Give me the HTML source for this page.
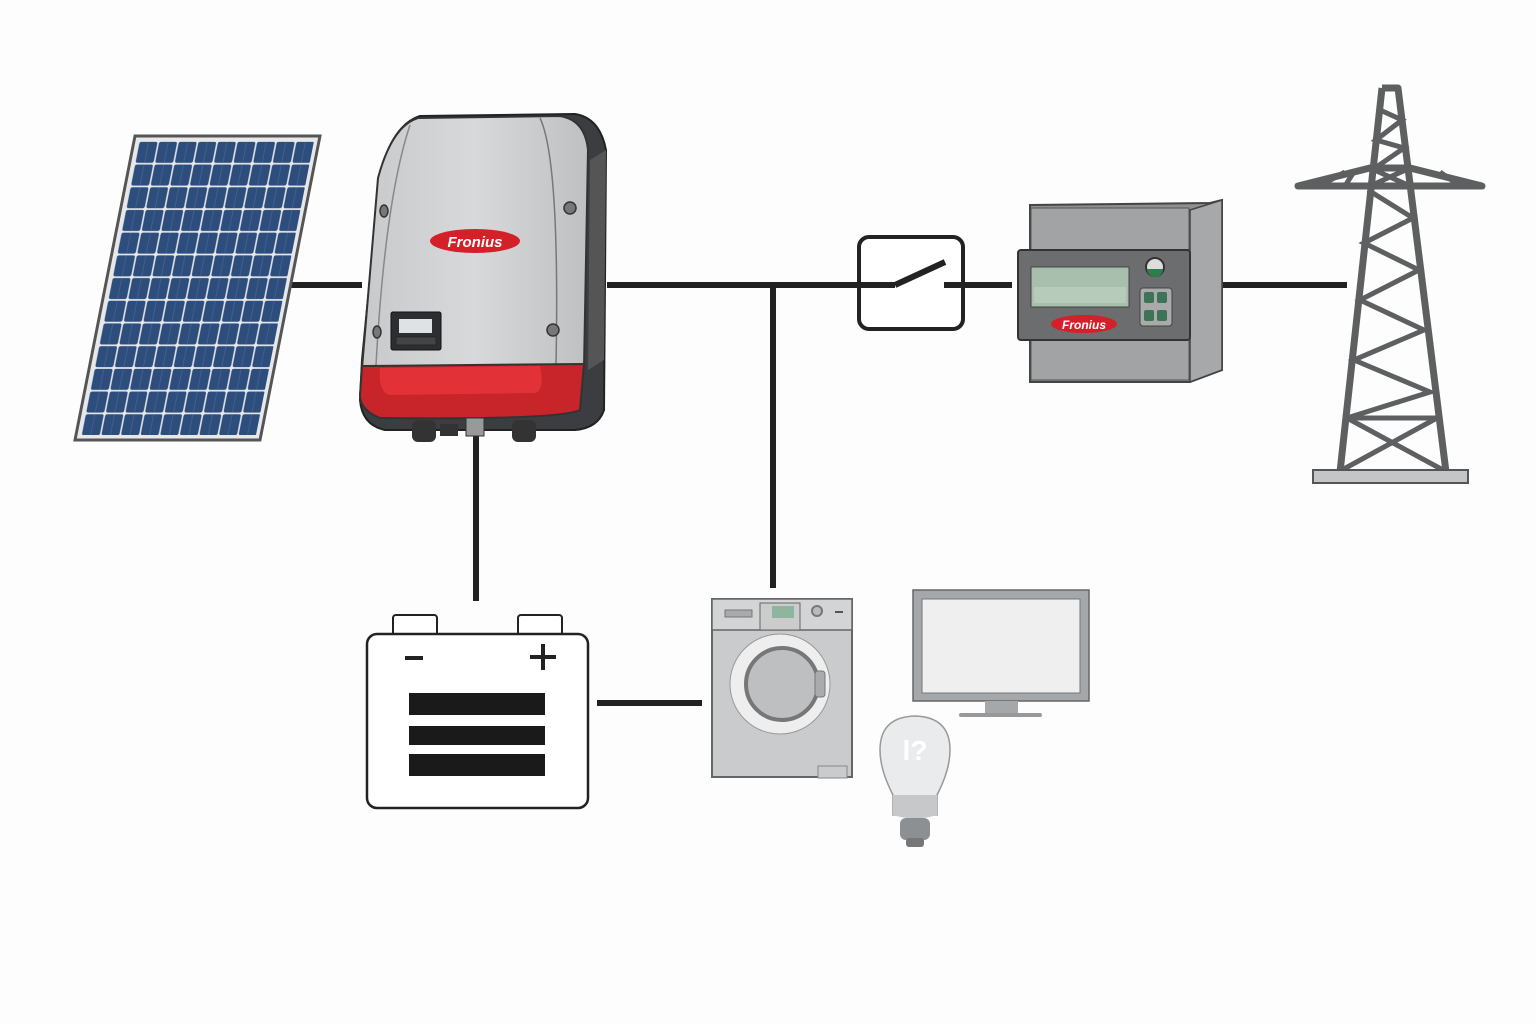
<!DOCTYPE html>
<html><head><meta charset="utf-8"><style>
html,body{margin:0;padding:0;background:#fdfdfd;}
svg{display:block;}
</style></head><body>
<svg width="1536" height="1024" viewBox="0 0 1536 1024" xmlns="http://www.w3.org/2000/svg" font-family="Liberation Sans, sans-serif">
<defs>
<pattern id="cells" x="5" y="5" width="19.6" height="22.7" patternUnits="userSpaceOnUse">
<rect x="0.8" y="0.8" width="18" height="21" rx="2" fill="#2d4d7d"/>
<line x1="9.8" y1="1" x2="9.8" y2="22" stroke="#4a6a99" stroke-width="0.6"/>
</pattern>
<linearGradient id="inv" x1="0" y1="0" x2="1" y2="0">
<stop offset="0" stop-color="#c8c9cb"/><stop offset="0.5" stop-color="#d8d9db"/><stop offset="1" stop-color="#bfc0c2"/>
</linearGradient>
</defs>

<!-- connectors -->
<g stroke="#222" stroke-width="6" fill="none">
<line x1="290" y1="285" x2="362" y2="285"/>
<line x1="607" y1="285" x2="860" y2="285"/>
<line x1="773" y1="285" x2="773" y2="588"/>
<line x1="946" y1="285" x2="1012" y2="285"/>
<line x1="1222" y1="285" x2="1347" y2="285"/>
<line x1="476" y1="430" x2="476" y2="601"/>
<line x1="597" y1="703" x2="702" y2="703"/>
</g>

<!-- solar panel -->
<g transform="matrix(1,0,-0.1974,1,135,136)">
<rect x="0" y="0" width="185" height="304" fill="#e6e8ea" stroke="#555" stroke-width="3"/>
<rect x="5" y="5" width="175" height="294" fill="url(#cells)"/>
</g>

<!-- inverter -->
<path d="M420 116 L575 114 Q600 118 606 150 L604 410 Q598 428 575 430 L385 430 Q362 425 360 400 L362 360 L380 175 Q392 125 420 116 Z" fill="#3b3d40" stroke="#222" stroke-width="2"/>
<path d="M418 118 L560 116 Q585 120 588 150 L584 368 L362 368 L378 178 Q392 126 418 118 Z" fill="url(#inv)" stroke="#333" stroke-width="2"/>
<path d="M590 160 L606 150 L604 360 L588 370 Z" fill="#555"/>
<path d="M540 118 Q560 160 556 365" stroke="#777" stroke-width="1.5" fill="none"/>
<path d="M410 125 Q385 200 376 365" stroke="#888" stroke-width="1.5" fill="none"/>
<path d="M362 366 L584 364 L580 410 Q560 420 380 418 Q360 410 360 395 Z" fill="#c8252a" stroke="#333" stroke-width="2"/>
<path d="M380 368 L540 366 Q545 390 535 393 L390 395 Q378 392 380 368 Z" fill="#e23238"/>
<ellipse cx="475" cy="241" rx="45" ry="12" fill="#d42028"/>
<text x="475" y="247" font-size="15" font-weight="bold" font-style="italic" fill="#fff" text-anchor="middle">Fronius</text>
<rect x="391" y="312" width="50" height="38" rx="2" fill="#2c2e31" stroke="#111"/>
<rect x="399" y="319" width="33" height="14" fill="#dfe2e4"/>
<rect x="396" y="337" width="40" height="8" fill="#444" stroke="#222" stroke-width="0.8"/>
<g fill="#777" stroke="#333" stroke-width="1.5">
<ellipse cx="384" cy="211" rx="4" ry="6"/><ellipse cx="570" cy="208" rx="6" ry="6"/>
<ellipse cx="377" cy="332" rx="4" ry="6"/><ellipse cx="553" cy="330" rx="6" ry="6"/>
</g>
<g fill="#333"><rect x="412" y="420" width="24" height="22" rx="6"/><rect x="512" y="420" width="24" height="22" rx="6"/><rect x="440" y="424" width="18" height="12"/><rect x="466" y="418" width="18" height="18" fill="#999" stroke="#333"/></g>

<!-- switch -->
<rect x="859" y="237" width="104" height="92" rx="10" fill="#fff" stroke="#222" stroke-width="4"/>
<line x1="860" y1="285" x2="895" y2="285" stroke="#222" stroke-width="6"/>
<line x1="895" y1="285" x2="945" y2="262" stroke="#222" stroke-width="6"/>
<line x1="944" y1="285" x2="963" y2="285" stroke="#222" stroke-width="6"/>

<!-- meter -->
<path d="M1030 205 L1210 203 L1222 200 L1222 370 L1190 382 L1030 382 Z" fill="#8e8f91" stroke="#444" stroke-width="2"/>
<path d="M1190 210 L1222 200 L1222 370 L1190 382 Z" fill="#a7a8aa" stroke="#444" stroke-width="1.5"/>
<rect x="1031" y="208" width="158" height="42" fill="#a2a3a5" stroke="#555"/>
<rect x="1031" y="340" width="158" height="40" fill="#a2a3a5" stroke="#555"/>
<rect x="1018" y="250" width="172" height="90" rx="3" fill="#6b6d6f" stroke="#333" stroke-width="2"/>
<rect x="1031" y="267" width="98" height="40" fill="#a9bfae" stroke="#444"/>
<rect x="1034" y="287" width="92" height="16" fill="#b7cbbb"/>
<circle cx="1155" cy="267" r="9" fill="#ddd" stroke="#333" stroke-width="2"/>
<path d="M1147 269 A8 8 0 0 0 1163 269 Z" fill="#2d7d4f"/>
<rect x="1140" y="288" width="32" height="38" rx="3" fill="#aaa" stroke="#444"/>
<g fill="#3d7356"><rect x="1144" y="292" width="10" height="11" rx="2"/><rect x="1157" y="292" width="10" height="11" rx="2"/><rect x="1144" y="310" width="10" height="11" rx="2"/><rect x="1157" y="310" width="10" height="11" rx="2"/></g>
<ellipse cx="1084" cy="324" rx="33" ry="9" fill="#d42028"/>
<text x="1084" y="329" font-size="12" font-weight="bold" font-style="italic" fill="#fff" text-anchor="middle">Fronius</text>

<!-- pylon -->
<g fill="none" stroke="#5d5f61" stroke-width="7" stroke-linejoin="round">
<path d="M1382 88 L1398 88 L1446 472 M1382 88 L1340 472"/>
<path d="M1298 186 L1370 168 L1410 168 L1482 186 Z"/>
</g>
<g stroke="#5d5f61" stroke-width="5" fill="none">
<path d="M1380 110 L1402 120 L1376 140 L1404 148 L1372 170"/>
<path d="M1370 168 L1410 186 M1410 168 L1370 186 M1320 186 L1345 172 M1345 186 L1355 170 M1460 186 L1440 172"/>
<path d="M1368 190 L1413 218 L1364 243 L1419 270 L1360 300 L1424 330 L1354 360 L1430 392 L1347 418 M1347 418 L1437 418 M1347 418 L1443 470 M1437 418 L1342 470"/>
</g>
<rect x="1313" y="470" width="155" height="13" fill="#c4c5c6" stroke="#555" stroke-width="2"/>

<!-- battery -->
<rect x="393" y="615" width="44" height="22" rx="3" fill="#fff" stroke="#222" stroke-width="2"/>
<rect x="518" y="615" width="44" height="22" rx="3" fill="#fff" stroke="#222" stroke-width="2"/>
<rect x="367" y="634" width="221" height="174" rx="10" fill="#fff" stroke="#222" stroke-width="2.5"/>
<rect x="405" y="656" width="18" height="4" fill="#222"/>
<rect x="530" y="655" width="26" height="4" fill="#222"/><rect x="541" y="644" width="4" height="26" fill="#222"/>
<rect x="409" y="693" width="136" height="22" fill="#1a1a1a"/>
<rect x="409" y="726" width="136" height="19" fill="#1a1a1a"/>
<rect x="409" y="754" width="136" height="22" fill="#1a1a1a"/>

<!-- washing machine -->
<rect x="712" y="599" width="140" height="178" fill="#c9cbcc" stroke="#666" stroke-width="2"/>
<rect x="712" y="599" width="140" height="31" fill="#d3d4d5" stroke="#666" stroke-width="1.5"/>
<rect x="725" y="610" width="27" height="7" fill="#aaa" stroke="#777"/>
<rect x="760" y="603" width="40" height="27" fill="#ccc" stroke="#666"/>
<rect x="772" y="606" width="22" height="12" fill="#8fb59f"/>
<circle cx="817" cy="611" r="5" fill="#bbb" stroke="#777" stroke-width="2"/>
<rect x="835" y="611" width="8" height="2" fill="#555"/>
<circle cx="780" cy="684" r="50" fill="#eeeeee" stroke="#999"/>
<circle cx="782" cy="684" r="36" fill="#bdbfc0" stroke="#777" stroke-width="4"/>
<rect x="815" y="671" width="10" height="26" rx="3" fill="#a9abac" stroke="#777"/>
<rect x="818" y="766" width="29" height="12" fill="#c9cbcc" stroke="#888"/>

<!-- TV -->
<rect x="913" y="590" width="176" height="111" fill="#a5a8aa" stroke="#666" stroke-width="1.5"/>
<rect x="922" y="599" width="158" height="94" fill="#efefef" stroke="#777"/>
<rect x="985" y="701" width="33" height="13" fill="#a5a8aa"/>
<rect x="959" y="713" width="83" height="4" rx="2" fill="#999"/>

<!-- bulb -->
<path d="M893 815 L893 795 Q880 770 880 750 Q880 717 915 716 Q950 717 950 750 Q950 770 937 795 L937 815 Z" fill="#eaebec" stroke="#999" stroke-width="1.5"/>
<path d="M893 795 L937 795 L937 815 Q915 822 893 815 Z" fill="#c6c8c9"/>
<rect x="900" y="818" width="30" height="22" rx="6" fill="#8d9092"/>
<rect x="906" y="838" width="18" height="9" rx="3" fill="#777"/>
<text x="915" y="760" font-size="28" fill="#fff" text-anchor="middle" font-weight="bold">l?</text>
</svg>
</body></html>
